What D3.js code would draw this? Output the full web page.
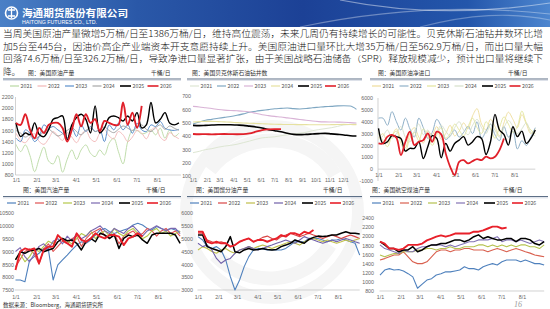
<!DOCTYPE html>
<html><head><meta charset="utf-8">
<script src="https://cdn.jsdelivr.net/npm/d3@7"></script>
<style>html,body{margin:0;padding:0;background:#fff;}svg{display:block;font-family:"Noto Sans CJK SC","Noto Sans",sans-serif;}</style>
</head><body>
<svg id="c" width="550" height="309"></svg>
<script>
// ---------------- DATA ----------------
const years = ["2021","2022","2023","2024","2025","2026"];
const monthLabels = ["1/1","2/1","3/1","4/1","5/1","6/1","7/1","8/1","9/1","10/1","11/1","12/1"];
const monthDays = [0,31,59,90,120,151,181,212,243,273,304,334];

const paragraph = [
 "当周美国原油产量微增5万桶/日至1386万桶/日，维持高位震荡，未来几周仍有持续增长的可能性。贝克休斯石油钻井数环比增",
 "加5台至445台，因油价高企产业端资本开支意愿持续上升。美国原油进口量环比大增35万桶/日至562.9万桶/日，而出口量大幅",
 "回落74.6万桶/日至326.2万桶/日，导致净进口量显著扩张，由于美国战略石油储备（SPR）释放规模减少，预计出口量将继续下",
 "降。"
];
const sourceText = "数据来源：Bloomberg，海通期货研究所";

// US crude production (weekly)
const crudeTicks = [800,1000,1200,1400,1600,1800,2000,2200];
const crude2021 = [1350,1220,1340,1150,860,1100,1300,1050,1000,1150,850,1080,1250,1080,1250,1340,1190,1130,1250,1160,1370,1460,1220,1000,1400,1600,1600,1540,1560,1610,1520,1640,1460,1610,1490,1550];
const crude2022 = [1550,1420,1380,1480,1540,1400,1350,1450,1580,1500,1420,1560,1480,1380,1520,1600,1450,1400,1550,1620,1500,1450,1580,1520,1400,1480,1600,1550,1450,1600,1650,1480,1420,1560,1500,1450];
const crude2023 = [1460,1400,1610,1550,1400,1490,1700,1640,1670,1610,1550,1460,1640,1490,1700,1580,1670,1580,1610,1400,1700,1610,1730,1610,1700,1550,1730,1610,1580,1700,1670,1760,1640,1610,1600,1620];
const crude2024 = [1600,1550,1480,1520,1450,1500,1580,1620,1560,1500,1540,1600,1650,1580,1520,1600,1640,1580,1620,1660,1600,1560,1620,1680,1640,1600,1660,1700,1620,1580,1650,1700,1620,1680,1640,1600];
const crude2025 = [1735,1490,1555,1525,1735,1525,1490,1615,1800,1830,1860,1430,1700,1830,1890,1800,1555,2040,1555,1645,1830,1860,1830,1770,1860,1770,1920,1645,1700,2100,1735,1800,1920,1735,1700,1735];
const crude2026 = [1735,1700,1890,1615,1460,1645,1555,1700,1735,1735,1645,1400,1615,1890,1675,1890,1735,1800,1585,1770,1735,1700,1700,2100,1700,1920,1645,2040];

// Baker Hughes oil rigs (bi-weekly readings)
const rigTicks = [100,200,300,400,500,600,700];
const rig2021 = [275,285,298,305,316,324,330,338,350,362,375,386,390,394,402,409,415,421,428,440,448,455,462,472,483,486,490];
const rig2022 = [490,505,518,525,533,540,546,555,566,578,586,592,598,604,607,610,605,603,606,612,616,620,622,626,627,625,600];
const rig2023 = [622,618,612,606,599,594,591,589,586,580,570,560,553,547,542,536,530,524,518,512,508,506,505,504,503,500,497];
const rig2024 = [505,508,510,510,508,506,504,500,497,496,494,492,490,488,487,486,486,485,485,484,484,484,485,486,487,486,485];
const rig2025 = [480,478,480,482,484,484,484,482,480,474,468,460,448,440,432,420,412,410,412,415,418,420,416,412,408,402,400];
const rig2026 = [415,413,414,412,414,415,414,413,414,420,432,444,450,452,452];

// US crude net imports (weekly)
const netTicks = [-1000,0,1000,2000,3000,4000,5000,6000];
const net2021 = [2600,3000,2200,2800,3400,2500,1800,3000,3500,2700,2200,3200,2900,3600,2500,3000,3700,2800,3200,3900,3400,4500,5100,3800,3300,4200,3600,2800,3900,4800,4200,3500,4600,3800,3000,3400];
const net2022 = [4300,4300,3700,4850,4000,3300,4300,3400,2700,4300,3500,2600,3100,4200,3600,2500,2800,3300,2700,3100,3600,3000,4000,2600,3200,3800,2900,2400,3600,2700,3200,1700,2400,2000,2700,3500];
const net2023 = [3000,2400,1900,2800,3200,2200,1500,2600,3100,2400,3400,2800,2000,2900,3500,2600,3000,3800,3300,2800,3600,4300,3500,3000,4000,3400,2600,3500,4400,3800,3100,3600,4900,3900,3300,3000];
const net2024 = [2500,2800,3300,2600,3000,3600,2700,2300,3200,3800,2900,3300,2500,3100,3700,3200,2800,3500,4000,3300,2900,3700,4200,3500,3000,3800,3300,2700,3500,4100,3600,3000,3400,3900,3100,2800];
const net2025 = [3440,2170,2310,2820,2740,2590,1520,1750,1750,2310,900,1890,2820,2590,960,2170,1520,2170,2450,2740,2030,2310,2740,2590,1240,2310,4620,3300,2930,2030,3580,2740,3210,2170,2590,3300];
const net2026 = [2170,2170,2740,2880,2650,1190,2310,3160,2030,2310,2450,3020,2310,3160,2930,1330,200,-500,620,760,480,680,850,760,1050,900,1050,1610,2590];

// US gasoline production (weekly)
const gasTicks = [7500,8000,8500,9000,9500,10000,10500];
const gas2021 = [7890,7890,7820,8660,8800,8930,9120,9060,7890,8480,8670,8860,9060,9250,9380,9320,9450,9640,9840,9900,9770,9700,9770,9840,9900,10030,10100,10030,9900,9840,9970,9900,9840,9900,9840,9770];
const gas2022 = [8400,8700,9000,9100,8900,8500,9100,9300,9000,9200,9400,9300,9500,9600,9200,9500,9700,9800,9900,9600,9500,9700,9300,9600,9700,9800,9600,9700,9900,9800,9600,9800,9900,9700,9800,9600];
const gas2023 = [8700,8900,8600,8800,9100,9000,9200,9400,9300,9600,9500,9400,9300,9500,9700,9600,9800,9500,9700,9800,9600,9900,9700,9600,9800,9900,9700,9500,9600,9800,9900,9700,9800,9600,9700,9800];
const gas2024 = [9000,9150,8800,8600,8900,9200,9300,9100,9400,9500,9300,9600,9400,9700,9500,9600,9800,9900,10000,9800,9700,9900,9800,9700,9900,10000,9800,9600,9800,9900,10000,9900,9800,9900,9900,9700];
const gas2025 = [8670,8990,8930,9030,9060,9120,8990,9060,9120,9380,9510,9420,9450,9320,9060,9380,9510,9380,9710,9640,9510,9640,9120,9510,9640,9580,9640,9450,9320,9640,9710,9710,9710,9710,9640,9320];
const gas2026 = [8280,9000,9120,9060,9120,8540,9060,9190,9190,9640,9450,9320,9190,9710,9450,9380,9510,9710,9580,9510,9640,9640,9580,9250,9510,9580,9710,9580];

// US distillate production (weekly)
const distTicks = [3000,3500,4000,4500,5000,5500,6000];
const dist2021 = [5080,4950,4690,4620,4690,4560,4170,3520,3000,3390,3910,4300,4560,4620,4600,4560,4560,4560,4560,4620,4750,4880,4880,4880,5010,5010,5010,4950,4880,4950,4950,5010,4950,4880,4820,4360];
const dist2022 = [5210,5210,4950,4880,4820,4880,4820,4690,4750,4880,4950,5010,4880,4950,5050,5100,5010,4950,5080,5140,5210,5140,5080,5140,5210,5140,5080,5010,5080,5140,5080,5010,5080,5140,5080,5010];
const dist2023 = [4560,4690,4620,4500,4430,4560,4620,4500,4430,4560,4620,4690,4620,4690,4750,4690,4620,4690,4750,4820,4880,4820,4750,4880,4950,5010,4950,4880,4950,4880,4820,4880,4950,4880,4950,5010];
const dist2024 = [4820,4690,4750,4560,4230,4040,4170,4230,4430,4560,4620,4690,4620,4560,4620,4690,4750,4820,4880,4950,4880,4820,4950,5080,5010,4950,4880,4820,4880,4950,4880,4950,5010,4950,4880,4820];
const dist2025 = [5140,5140,4690,4620,4560,4490,4690,5080,4490,4450,4560,4620,4560,4580,4620,4580,4560,4580,4690,4750,4820,4950,4880,4820,4970,5050,5100,5080,5100,5140,5140,5210,5270,5210,5210,5180];
const dist2026 = [5270,5270,4880,4820,4880,4820,4820,4690,4750,4880,4950,5010,4880,4950,4950,4880,4950,5010,5140,5080,5210,5210,5140,5270,5210,5340];

// US jet fuel production (weekly)
const jetTicks = [800,1000,1200,1400,1600,1800,2000,2200,2400];
const jet2021 = [1150,1260,1290,1260,1270,1240,1180,1110,860,950,1040,1070,1150,1180,1220,1220,1240,1260,1330,1290,1290,1260,1330,1370,1400,1370,1440,1480,1480,1480,1440,1480,1440,1400,1400,1370];
const jet2022 = [1480,1510,1550,1590,1590,1660,1550,1440,1400,1400,1440,1550,1660,1700,1700,1660,1700,1700,1730,1730,1700,1700,1700,1660,1700,1730,1700,1660,1700,1730,1700,1660,1630,1590,1570,1550];
const jet2023 = [1590,1550,1590,1620,1620,1660,1660,1660,1700,1700,1730,1730,1700,1730,1730,1770,1730,1730,1770,1770,1770,1810,1810,1770,1810,1770,1810,1770,1810,1770,1810,1810,1770,1770,1730,1810];
const jet2024 = [1810,1730,1700,1660,1620,1700,1660,1660,1730,1770,1770,1810,1810,1810,1770,1810,1770,1810,1840,1880,1880,1920,1920,1920,1950,1990,1880,1920,1920,1880,1920,1880,1840,1880,1920,1880];
const jet2025 = [1880,1810,1730,1730,1660,1700,1700,1770,1660,1700,1770,1810,1810,1840,1840,1880,1920,1920,1880,1920,1990,2030,1950,1990,1950,1920,1920,1950,1950,1880,1950,1950,1920,1840,1810,1880];
const jet2026 = [1880,1840,1730,1730,1700,1730,1810,1810,1810,1840,1910,1950,1990,2020,1990,2020,2060,2060,2060,2060,2100,2100,2130,2170,2210,2210,2170,2190];

// ---------------- DRAW ----------------
const svg = d3.select("#c");
const defs = svg.append("defs");

// banner
const grad = defs.append("linearGradient").attr("id","bn").attr("x1","0").attr("x2","1").attr("y1","0").attr("y2","0");
[["0%","#4a80c6"],["25%","#2a58a8"],["55%","#1c4196"],["85%","#2356ab"],["100%","#4d86cf"]]
  .forEach(s=>grad.append("stop").attr("offset",s[0]).attr("stop-color",s[1]));
svg.append("rect").attr("x",0).attr("y",0).attr("width",550).attr("height",27).attr("fill","url(#bn)");
[["M300,27 C380,10 460,4 550,14",0.35],["M340,0 C420,16 490,12 550,3",0.45],["M420,27 C470,14 510,12 550,20",0.3]]
  .forEach(s=>svg.append("path").attr("d",s[0]).attr("fill","none").attr("stroke","#fff").attr("stroke-opacity",s[1]).attr("stroke-width",1.2));
svg.append("circle").attr("cx",11.5).attr("cy",13).attr("r",6).attr("fill","none").attr("stroke","#fff").attr("stroke-width",1.6);
svg.append("path").attr("d","M8,10 H15 M8,16 H15 M11.5,8 V18").attr("stroke","#fff").attr("stroke-width",1.3);
svg.append("text").attr("x",22).attr("y",16.5).attr("fill","#fff").attr("font-size",10).attr("font-weight","bold")
  .attr("textLength",106).attr("lengthAdjust","spacingAndGlyphs").text("海通期货股份有限公司");
svg.append("text").attr("x",22).attr("y",23.5).attr("fill","#fff").attr("font-size",5).attr("font-family","Liberation Sans, Arial, sans-serif")
  .attr("textLength",75).attr("lengthAdjust","spacingAndGlyphs").text("HAITONG FUTURES CO., LTD.");

// watermark
const wm = svg.append("g").attr("fill","none").attr("stroke","#f5f5f5");
wm.append("circle").attr("cx",272).attr("cy",212).attr("r",86).attr("stroke-width",12);
wm.append("path").attr("d","M210,170 C240,130 310,130 335,175").attr("stroke-width",14);
wm.append("path").attr("d","M215,255 C250,290 305,285 330,245").attr("stroke-width",14);

// paragraph
const paraY = [37,49.5,62,74.5];
paragraph.forEach((t,i)=>{
  const tx = svg.append("text").attr("x",3).attr("y",paraY[i]).attr("font-size",8.6).attr("font-weight",300)
    .attr("fill","#111").text(t);
  if(i<3) tx.attr("textLength",540).attr("lengthAdjust","spacingAndGlyphs");
});

const lightCols = {
  A:["#b9d9a3","#f2b6b6","#5b8fcc","#a6a6a6","#000000","#e0202a"],
  B:["#dde6d3","#7fa7c2","#d9b3d6","#e6e1a0","#000000","#e0202a"],
  C:["#eedc9a","#8fb0c8","#e2e59c","#d6e0ca","#000000","#e0202a"],
  D:["#4f81bd","#e05252","#b5c84a","#7b68b0","#000000","#e8202a"],
  E:["#4f81bd","#d94545","#c0bf4a","#7060a8","#000000","#e8202a"],
  F:["#4f81bd","#d9604f","#b5c24f","#8474b5","#000000","#e8202a"]
};

const panels = [
 {key:"A", title:"图：美国原油产量", unit:"千桶/日", titleX:28, unitX:151, rule:[3,181], titleY:75, ruleY:79,
  series:[crude2021,crude2022,crude2023,crude2024,crude2025,crude2026], step:7, x0:16, ppd:0.665, dayMax:248,
  yDomain:[800,2200], yRange:[175,97], yTicks:crudeTicks, yLabelX:13.5, xLabelY:181.5, months:8,
  legX:10, legStep:27.5, legY:86, curve:d3.curveCatmullRom.alpha(0.5), leftAxis:true, baseVal:800, widths:[0.9,0.9,1,1,1.4,1.9]},
 {key:"B", title:"图：美国贝克休斯石油钻井数", unit:"", titleX:192, unitX:0, rule:[187,362], titleY:75, ruleY:79,
  series:[rig2021,rig2022,rig2023,rig2024,rig2025,rig2026], step:14, x0:193, ppd:0.449, dayMax:364,
  yDomain:[100,700], yRange:[176,96], yTicks:rigTicks, yLabelX:191, xLabelY:181.5, months:12,
  legX:190, legStep:27, legY:86, curve:d3.curveMonotoneX, leftAxis:false, baseVal:null, widths:[1,1.1,1.1,1.1,1.6,1.8]},
 {key:"C", title:"图：美国原油净进口", unit:"千桶/日", titleX:378, unitX:508, rule:[370,548], titleY:75, ruleY:79,
  series:[net2021,net2022,net2023,net2024,net2025,net2026], step:7, x0:378.5, ppd:0.64, dayMax:245,
  yDomain:[-1000,6000], yRange:[181,98], yTicks:netTicks, yLabelX:373, xLabelY:177, months:8,
  legX:372, legStep:27.5, legY:86, curve:d3.curveCatmullRom.alpha(0.5), leftAxis:true, baseVal:0, widths:[0.9,1,0.9,0.9,1.4,1.8]},
 {key:"D", title:"图：美国汽油产量", unit:"千桶/日", titleX:23, unitX:146, rule:[3,181], titleY:192, ruleY:196.5,
  series:[gas2021,gas2022,gas2023,gas2024,gas2025,gas2026], step:7, x0:15.5, ppd:0.672, dayMax:245,
  yDomain:[7500,10500], yRange:[290,213], yTicks:gasTicks, yLabelX:14, xLabelY:298.5, months:8,
  legX:7, legStep:28, legY:203, curve:d3.curveLinear, leftAxis:false, baseVal:7500, widths:[1.1,1.1,1.1,1.1,1.5,1.9]},
 {key:"E", title:"图：美国馏分油产量", unit:"千桶/日", titleX:196, unitX:323, rule:[187,362], titleY:192, ruleY:196.5,
  series:[dist2021,dist2022,dist2023,dist2024,dist2025,dist2026], step:7, x0:198, ppd:0.66, dayMax:245,
  yDomain:[3000,6000], yRange:[290,213], yTicks:distTicks, yLabelX:193, xLabelY:298.5, months:8,
  legX:190, legStep:28, legY:203, curve:d3.curveLinear, leftAxis:false, baseVal:3000, widths:[1.1,1.1,1.1,1.1,1.5,1.9]},
 {key:"F", title:"图：美国航空煤油产量", unit:"千桶/日", titleX:372, unitX:503, rule:[370,548], titleY:192, ruleY:196.5,
  series:[jet2021,jet2022,jet2023,jet2024,jet2025,jet2026], step:7, x0:380, ppd:0.67, dayMax:245,
  yDomain:[800,2400], yRange:[291,218], yTicks:jetTicks, yLabelX:374, xLabelY:298.5, months:8,
  legX:372, legStep:28, legY:203, curve:d3.curveLinear, leftAxis:false, baseVal:800, widths:[1.1,1.1,1.1,1.1,1.5,1.9]}
];

function drawPanel(p){
  const g = svg.append("g");
  const cols = lightCols[p.key];
  const x = d3.scaleLinear().domain([0,p.dayMax]).range([p.x0, p.x0 + p.ppd*p.dayMax]);
  const y = d3.scaleLinear().domain(p.yDomain).range(p.yRange);

  // title row
  g.append("text").attr("x",p.titleX).attr("y",p.titleY).attr("font-size",5.8).attr("fill","#333").text(p.title);
  if(p.unit) g.append("text").attr("x",p.unitX).attr("y",p.titleY).attr("font-size",5.8).attr("fill","#333").text(p.unit);
  g.append("line").attr("x1",p.rule[0]).attr("x2",p.rule[1]).attr("y1",p.ruleY).attr("y2",p.ruleY)
    .attr("stroke","#5d6f86").attr("stroke-width",1.1);
  g.append("line").attr("x1",p.rule[0]).attr("x2",p.rule[1]).attr("y1",p.ruleY+1.3).attr("y2",p.ruleY+1.3)
    .attr("stroke","#c9d1dc").attr("stroke-width",0.8);

  // legend
  years.forEach((yr,i)=>{
    const lx = p.legX + i*p.legStep;
    const len = i>=4 ? 11 : 9;
    g.append("line").attr("x1",lx).attr("x2",lx+len).attr("y1",p.legY).attr("y2",p.legY)
      .attr("stroke",cols[i]).attr("stroke-width",i>=4?1.6:1.2);
    g.append("text").attr("x",lx+len+1.5).attr("y",p.legY+2).attr("font-size",5.3).attr("fill","#555").text(yr);
  });

  // axis lines
  const xEnd = x(p.dayMax);
  if(p.leftAxis){
    g.append("line").attr("x1",p.x0-0.5).attr("x2",p.x0-0.5).attr("y1",p.yRange[1]).attr("y2",p.yRange[0])
      .attr("stroke","#bfbfbf").attr("stroke-width",0.7);
  }
  if(p.baseVal!==null){
    g.append("line").attr("x1",p.x0-0.5).attr("x2",xEnd).attr("y1",y(p.baseVal)).attr("y2",y(p.baseVal))
      .attr("stroke","#bfbfbf").attr("stroke-width",0.7);
  }

  // y labels
  const ya = d3.axisLeft(y).tickValues(p.yTicks).tickSize(0).tickPadding(0).tickFormat(d=>String(d));
  const yg = g.append("g").attr("transform",`translate(${p.yLabelX},0)`).call(ya);
  yg.select(".domain").remove();
  yg.selectAll("text").attr("font-size",5.3).attr("fill","#666").attr("font-family","Liberation Sans, Arial, sans-serif");

  // x labels
  const xa = d3.axisBottom(x).tickValues(monthDays.slice(0,p.months)).tickSize(0).tickPadding(0)
    .tickFormat((d,i)=>monthLabels[i]);
  const xg = g.append("g").attr("transform",`translate(0,${p.xLabelY})`).call(xa);
  xg.select(".domain").remove();
  xg.selectAll("text").attr("dy",0).attr("y",0).attr("font-size",5.3).attr("fill","#666")
    .attr("font-family","Liberation Sans, Arial, sans-serif");

  // lines
  const line = d3.line().x((d,i)=>x(i*p.step)).y(d=>y(d)).curve(p.curve);
  p.series.forEach((s,i)=>{
    g.append("path").datum(s).attr("d",line).attr("fill","none").attr("stroke",cols[i])
      .attr("stroke-width",p.widths[i]).attr("stroke-linejoin","round");
  });
}
panels.forEach(drawPanel);

// source & page number
svg.append("text").attr("x",3).attr("y",307).attr("font-size",5.5).attr("fill","#333").text(sourceText);
svg.append("text").attr("x",514).attr("y",307).attr("font-size",8).attr("fill","#9a9a9a").attr("font-style","italic")
  .attr("font-family","Liberation Serif, serif").text("16");
</script>
</body></html>
